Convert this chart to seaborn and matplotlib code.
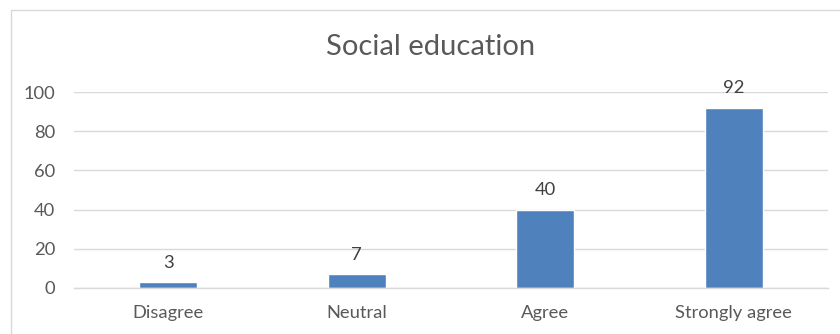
import matplotlib
matplotlib.use("Agg")
import matplotlib.pyplot as plt
import seaborn as sns
import pandas as pd
from matplotlib.patches import Rectangle

categories = ["Disagree", "Neutral", "Agree", "Strongly agree"]
values = [3, 7, 40, 92]
yticks = [0, 20, 40, 60, 80, 100]
title = "Social education"

sns.set_style("white")
plt.rcParams['font.family'] = ['Lato', 'DejaVu Sans']

W, H = 840, 334
fig = plt.figure(figsize=(W / 100, H / 100), dpi=100)
ax = fig.add_axes([74 / W, (H - 288) / H, (828 - 74) / W, (288 - 92) / H])

df = pd.DataFrame({"category": categories, "value": values})
sns.barplot(data=df, x="category", y="value", ax=ax, color="#4F81BD",
            width=0.31, saturation=1)

ax.set_xlim(-0.5, 3.5)
ax.set_ylim(0, 100)
ax.set_yticks(yticks)
ax.set_yticklabels([str(t) for t in yticks])
ax.yaxis.grid(True, color="#D9D9D9", linewidth=1)
ax.set_axisbelow(True)
for s in ["top", "right", "left"]:
    ax.spines[s].set_visible(False)
ax.spines["bottom"].set_color("#D9D9D9")
ax.spines["bottom"].set_linewidth(1)
ax.tick_params(axis="y", length=0, pad=13.5, labelsize=13.2, labelcolor="#595959")
ax.tick_params(axis="x", length=0, pad=12.5, labelsize=13.2, labelcolor="#595959")
ax.set_xlabel("")
ax.set_ylabel("")

for p, v in zip(ax.patches, values):
    ax.annotate(str(v), (p.get_x() + p.get_width() / 2, p.get_height()),
                xytext=(0, 10.5), textcoords="offset points", ha="center",
                va="baseline", fontsize=13.2, color="#404040", annotation_clip=False)

fig.text(431 / W, (H - 47) / H, title, ha="center", va="center",
         fontsize=21, color="#595959")

fig.patches.append(Rectangle((11 / W, -0.1), 1.2, (H - 10) / H + 0.1,
                             transform=fig.transFigure, fill=False,
                             edgecolor="#D9D9D9", linewidth=1))

fig.savefig("out.png", dpi=100)
